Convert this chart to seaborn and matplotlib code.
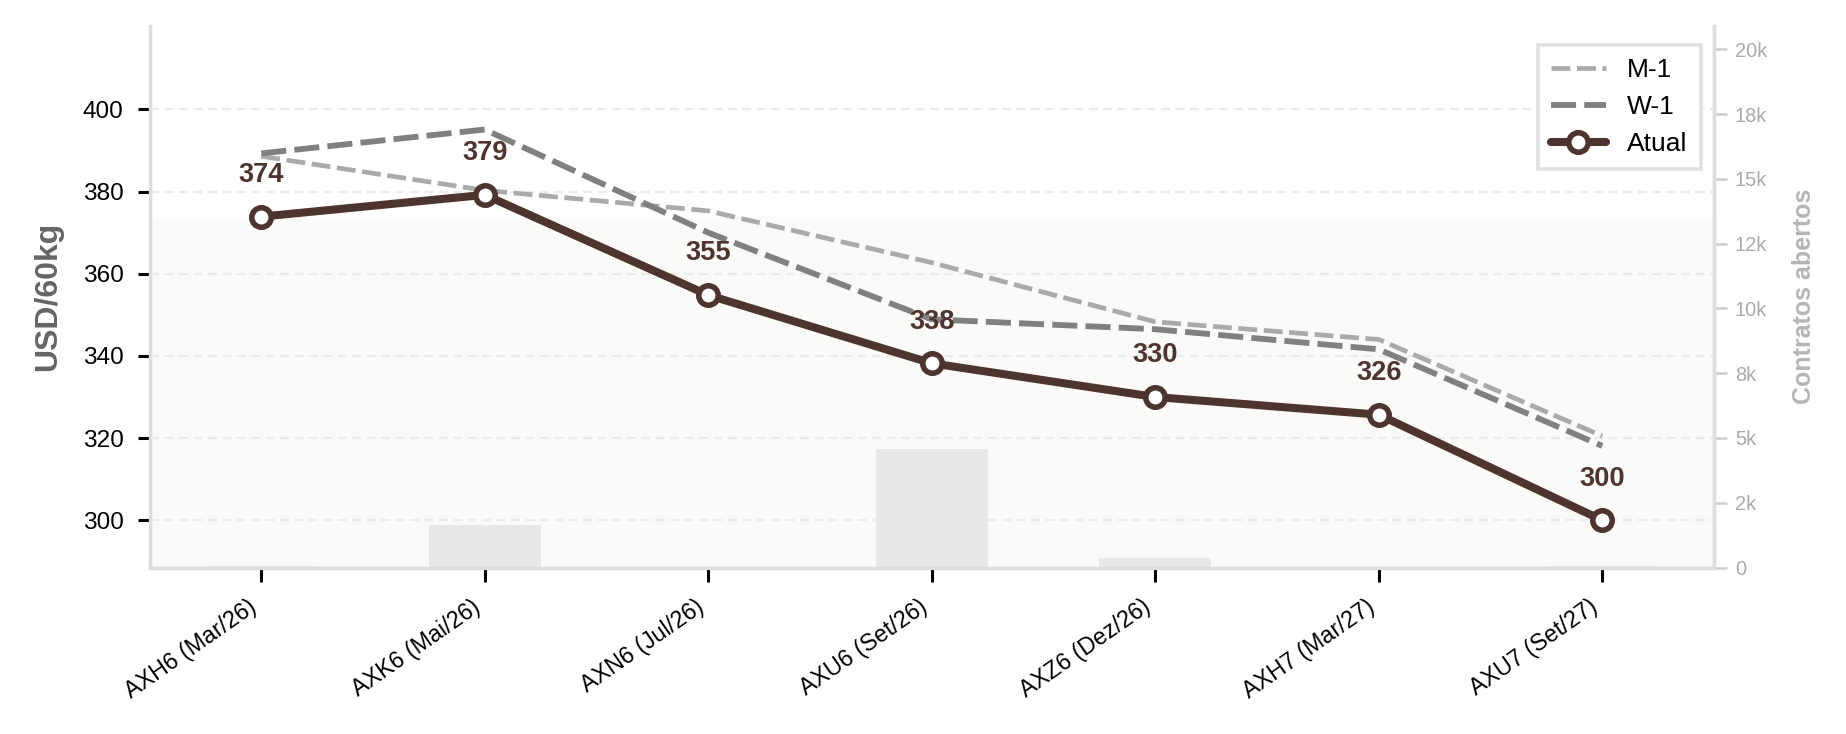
import numpy as np
import pandas as pd
import matplotlib
matplotlib.use("Agg")
import matplotlib.pyplot as plt
from matplotlib.patches import Rectangle
from matplotlib.transforms import blended_transform_factory
from matplotlib.ticker import FuncFormatter
import seaborn as sns

# ---------------- data ----------------
contracts = ["AXH6 (Mar/26)", "AXK6 (Mai/26)", "AXN6 (Jul/26)", "AXU6 (Set/26)",
             "AXZ6 (Dez/26)", "AXH7 (Mar/27)", "AXU7 (Set/27)"]
atual = [373.9, 379.2, 354.8, 338.2, 330.0, 325.7, 300.0]
w1 = [389.3, 395.1, 370.0, 348.9, 346.5, 341.6, 318.1]
m1 = [388.6, 380.3, 375.3, 362.7, 348.3, 344.0, 320.5]
open_interest = [50, 1650, 0, 4580, 350, 0, 70]
left_ticks = [300, 320, 340, 360, 380, 400]
right_ticks = [0, 2500, 5000, 7500, 10000, 12500, 15000, 17500, 20000]
series_labels = ["M-1", "W-1", "Atual"]

BROWN = "#4e342e"

sns.set_theme(style="white")
plt.rcParams["font.family"] = ["Liberation Sans", "DejaVu Sans"]

fig, ax = plt.subplots(figsize=(9.23, 3.67), dpi=200)
fig.subplots_adjust(left=0.081, right=0.9285, top=0.9646, bottom=0.2268)
ax2 = ax.twinx()
ax.set_zorder(ax2.get_zorder() + 1)
ax.patch.set_visible(False)

# open interest bars (right axis)
df_oi = pd.DataFrame({"contrato": contracts, "oi": open_interest})
sns.barplot(data=df_oi, x="contrato", y="oi", ax=ax2, color="#e8e8e8",
            width=0.5, saturation=1, zorder=2, edgecolor="none", linewidth=0)

ylo, yhi = 288.5, 420.3
# shaded zone below current front price
shade = Rectangle((0, ylo), 1, atual[0] - ylo,
                  transform=blended_transform_factory(ax.transAxes, ax.transData),
                  facecolor="#fafaf8", edgecolor="none", zorder=0)
ax2.add_patch(shade)

x = np.arange(len(contracts))
ax.plot(x, m1, color="#aaaaaa", lw=1.7, dashes=(4, 1.4), label=series_labels[0], zorder=3)
ax.plot(x, w1, color="#808080", lw=2.1, dashes=(4.3, 1.4), label=series_labels[1], zorder=3)
ax.plot(x, atual, color=BROWN, lw=2.9, marker="o", ms=7, mfc="white", mec=BROWN,
        mew=2.0, label=series_labels[2], zorder=4)

for xi, v in zip(x, atual):
    ax.annotate(f"{v:.0f}", (xi, v), xytext=(0, 15), textcoords="offset points",
                ha="center", va="center", fontsize=9.8, fontweight="bold", color=BROWN,
                zorder=5)

ax.set_xlim(-0.5, 6.5)
ax.set_ylim(ylo, yhi)
ax2.set_ylim(0, 20900)
ax.set_yticks(left_ticks)
ax2.set_yticks(right_ticks)
ax2.yaxis.set_major_formatter(FuncFormatter(lambda v, p: f"{v/1000:.0f}k" if v else "0"))
ax.set_xticks(x)
ax.set_xticklabels(contracts, rotation=35, ha="right", fontsize=8.4, color="black")
ax.set_xlabel("")
ax2.set_xlabel("")

ax.tick_params(axis="y", left=True, length=4.4, width=1.1, color="black", labelsize=8.8,
               labelcolor="black", pad=5)
ax.tick_params(axis="x", bottom=True, length=5, width=1.1, color="black", pad=5)
ax2.tick_params(axis="y", right=True, length=4.5, width=0.9, color="#cccccc", labelsize=7.2,
                labelcolor="#aaaaaa", pad=3)

ax.yaxis.grid(True, color="#ebebeb", lw=0.8, dashes=(4, 2.5))
ax.xaxis.grid(False)
ax2.grid(False)

for a in (ax, ax2):
    a.spines["top"].set_visible(False)
    for s in ("left", "bottom", "right"):
        a.spines[s].set_color("#dddddd")
        a.spines[s].set_linewidth(1.2)

ax.set_ylabel("USD/60kg", fontsize=11.5, fontweight="bold", color="#666666", labelpad=7)
ax2.set_ylabel("Contratos abertos", fontsize=9, fontweight="bold", color="#b5b5b5", labelpad=9)

leg = ax.legend(loc="upper right", bbox_to_anchor=(1, 0.99), fontsize=9.5, frameon=True,
                fancybox=False, edgecolor="#e0e0e0", facecolor="white", framealpha=1,
                handlelength=2.1, labelspacing=0.5, borderpad=0.5, labelcolor="black")
leg.get_frame().set_linewidth(1.3)

fig.savefig("out.png", dpi=200)
